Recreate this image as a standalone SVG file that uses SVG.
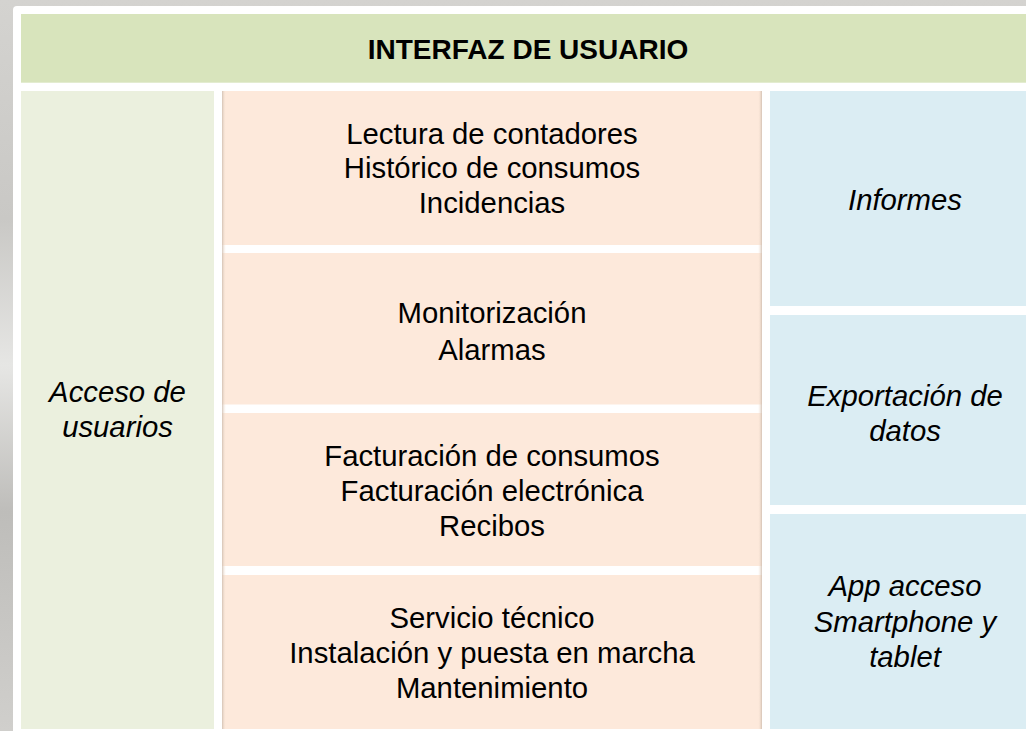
<svg xmlns="http://www.w3.org/2000/svg" width="1026" height="731" viewBox="0 0 1026 731">
<defs>
<linearGradient id="bg" x1="0" y1="0" x2="0" y2="1">
<stop offset="0" stop-color="#d4d3d0"/>
<stop offset="0.3" stop-color="#c9c8c5"/>
<stop offset="0.5" stop-color="#e6e6e4"/>
<stop offset="0.7" stop-color="#bebdba"/>
<stop offset="1" stop-color="#d0cfcc"/>
</linearGradient>
<linearGradient id="shL" x1="0" y1="0" x2="1" y2="0">
<stop offset="0" stop-color="#c9b8aa" stop-opacity="0.8"/>
<stop offset="1" stop-color="#fde9d9" stop-opacity="0"/>
</linearGradient>
<linearGradient id="shR" x1="1" y1="0" x2="0" y2="0">
<stop offset="0" stop-color="#c9b8aa" stop-opacity="0.8"/>
<stop offset="1" stop-color="#fde9d9" stop-opacity="0"/>
</linearGradient>
<style>
.t{font-family:"Liberation Sans",Arial,sans-serif;font-size:29.3px;fill:#000;text-anchor:middle}
.i{font-style:italic}
.h{font-weight:bold;font-size:28px}
.green{fill:#d8e4bc}
.lgreen{fill:#ebf0de}
.orange{fill:#fde9db}
.blue{fill:#dbedf3}
</style>
</defs>
<rect x="0" y="0" width="1026" height="731" fill="url(#bg)"/>
<rect x="13" y="6" width="1030" height="740" rx="4" fill="#ffffff"/>
<g id="header">
<rect class="green" x="21" y="14" width="1020" height="68.7"/>
<text class="t h" x="528" y="59">INTERFAZ DE USUARIO</text>
</g>
<g id="acceso">
<rect class="lgreen" x="21" y="91" width="193" height="638"/>
<text class="t i" x="117.5" y="402">Acceso de</text>
<text class="t i" x="117.5" y="437">usuarios</text>
</g>
<g id="lectura">
<rect class="orange" x="222" y="91" width="540" height="154"/>
<text class="t" x="492" y="143.5">Lectura de contadores</text>
<text class="t" x="492" y="178">Histórico de consumos</text>
<text class="t" x="492" y="212.5">Incidencias</text>
</g>
<g id="monitorizacion">
<rect class="orange" x="222" y="253" width="540" height="151.5"/>
<text class="t" x="492" y="323">Monitorización</text>
<text class="t" x="492" y="360">Alarmas</text>
</g>
<g id="facturacion">
<rect class="orange" x="222" y="413" width="540" height="153"/>
<text class="t" x="492" y="465.5">Facturación de consumos</text>
<text class="t" x="492" y="500.5">Facturación electrónica</text>
<text class="t" x="492" y="535.5">Recibos</text>
</g>
<g id="servicio">
<rect class="orange" x="222" y="575" width="540" height="154"/>
<text class="t" x="492" y="627.5">Servicio técnico</text>
<text class="t" x="492" y="662.5">Instalación y puesta en marcha</text>
<text class="t" x="492" y="697.5">Mantenimiento</text>
</g>
<rect x="222" y="91" width="4" height="638" fill="url(#shL)"/>
<rect x="758" y="91" width="4" height="638" fill="url(#shR)"/>
<g id="informes">
<rect class="blue" x="770" y="91" width="270" height="215"/>
<text class="t i" x="905" y="210">Informes</text>
</g>
<g id="exportacion">
<rect class="blue" x="770" y="315" width="270" height="190"/>
<text class="t i" x="905" y="406">Exportación de</text>
<text class="t i" x="905" y="441">datos</text>
</g>
<g id="app">
<rect class="blue" x="770" y="514" width="270" height="215"/>
<text class="t i" x="905" y="596">App acceso</text>
<text class="t i" x="905" y="631.5">Smartphone y</text>
<text class="t i" x="905" y="666.5">tablet</text>
</g>
<g id="connectors"></g>
</svg>
